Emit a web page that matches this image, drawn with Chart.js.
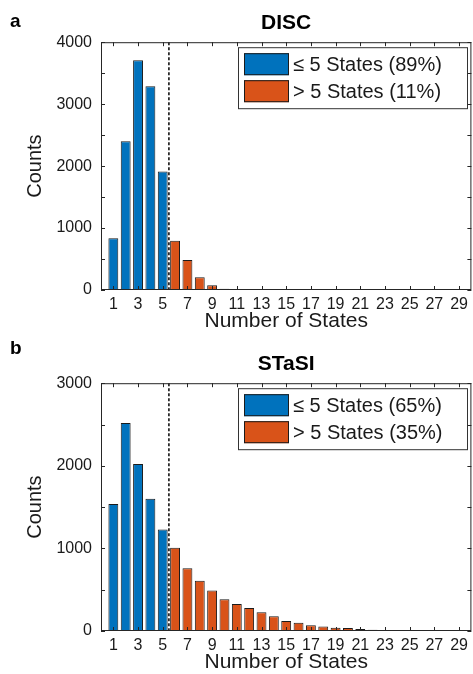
<!DOCTYPE html>
<html>
<head>
<meta charset="utf-8">
<script src="https://cdn.jsdelivr.net/npm/chart.js@4.4.1/dist/chart.umd.min.js"></script>
<style>
  html, body { margin: 0; padding: 0; background: #fff; overflow: hidden; }
  canvas { position: absolute; left: 0; }
  #panelA { top: 0; }
  #panelB { top: 341px; }
</style>
</head>
<body>
<canvas id="panelA" width="473" height="337"></canvas>
<canvas id="panelB" width="473" height="337"></canvas>
<script>
// Datos (número de estados vs. cuentas)
const statesLow = [1, 2, 3, 4, 5];
const statesHigh = [6, 7, 8, 9, 10, 11, 12, 13, 14, 15, 16, 17, 18, 19, 20, 21, 22, 23, 24, 25, 26, 27, 28, 29];

const discLow = [834, 2403, 3710, 3290, 1914];
const discHigh = [795, 484, 204, 75, 22, 5, 2, 0, 0, 0, 0, 0, 0, 0, 0, 0, 0, 0, 0, 0, 0, 0, 0, 0];

const stasiLow = [1538, 2517, 2023, 1602, 1230];
const stasiHigh = [1007, 761, 607, 489, 385, 328, 279, 227, 178, 121, 101, 69, 53, 40, 36, 24, 16, 12, 8, 4, 2, 1, 1, 0];

const xTickValues = [1, 3, 5, 7, 9, 11, 13, 15, 17, 19, 21, 23, 25, 27, 29];
const discLegend = ['≤ 5 States (89%)', '> 5 States (11%)'];
const stasiLegend = ['≤ 5 States (65%)', '> 5 States (35%)'];
const cutoffState = 5.5;

// Estilo común
const fontFamily = "'Liberation Sans', Arial, Helvetica, sans-serif";
const textColor = '#1a1a1a';
const axisColor = '#262626';
const blue = '#0072BD';
const orange = '#D95319';
const edge = '#1b1b1b';

// Caja de ejes, marcas hacia dentro y línea punteada de corte
const axesBox = {
    id: 'axesBox',
    afterDatasetsDraw(chart, args, opts) {
        const { ctx, chartArea: a, scales: { x, y } } = chart;
        ctx.save();
        const xs = x.getPixelForValue(opts.cutoff);
        ctx.strokeStyle = '#111';
        ctx.lineWidth = 1.6;
        ctx.setLineDash([3, 2]);
        ctx.beginPath();
        ctx.moveTo(xs, a.top);
        ctx.lineTo(xs, a.bottom);
        ctx.stroke();
        ctx.setLineDash([]);

        ctx.strokeStyle = axisColor;
        ctx.lineWidth = 1;
        const len = 4;
        ctx.beginPath();
        x.ticks.forEach(t => {
            const px = Math.round(x.getPixelForValue(t.value)) + 0.5;
            ctx.moveTo(px, a.bottom); ctx.lineTo(px, a.bottom - len);
            ctx.moveTo(px, a.top); ctx.lineTo(px, a.top + len);
        });
        y.ticks.forEach(t => {
            const py = Math.round(y.getPixelForValue(t.value)) + 0.5;
            ctx.moveTo(a.left, py); ctx.lineTo(a.left + len, py);
            ctx.moveTo(a.right, py); ctx.lineTo(a.right - len, py);
        });
        ctx.stroke();
        ctx.strokeRect(a.left + 0.5, a.top + 0.5, a.width - 1, a.height - 1);
        ctx.restore();
    }
};

// Leyenda dentro del área del gráfico (esquina superior derecha)
const insideLegend = {
    id: 'insideLegend',
    afterDraw(chart) {
        const { ctx, chartArea: a } = chart;
        const bx = a.left + 137, by = a.top + 5, bw = 229, bh = 61;
        ctx.save();
        ctx.fillStyle = '#fff';
        ctx.fillRect(bx, by, bw, bh);
        ctx.strokeStyle = '#333';
        ctx.lineWidth = 1;
        ctx.strokeRect(bx + 0.5, by + 0.5, bw, bh);
        ctx.font = '20px ' + fontFamily;
        ctx.textBaseline = 'middle';
        chart.data.datasets.forEach((ds, i) => {
            const sy = by + 6 + i * 27;
            ctx.fillStyle = ds.backgroundColor;
            ctx.fillRect(bx + 6, sy, 45, 22);
            ctx.strokeStyle = edge;
            ctx.strokeRect(bx + 6.5, sy + 0.5, 44, 21);
            ctx.fillStyle = textColor;
            ctx.fillText(ds.label, bx + 55, sy + 12);
        });
        ctx.restore();
    }
};

// Letra del panel (a / b)
const panelLetter = {
    id: 'panelLetter',
    afterDraw(chart, args, opts) {
        const ctx = chart.ctx;
        ctx.save();
        ctx.font = 'bold 19px ' + fontFamily;
        ctx.fillStyle = '#000';
        ctx.textBaseline = 'alphabetic';
        ctx.fillText(opts.text, 10, opts.baseline);
        ctx.restore();
    }
};

function makePanel(canvasId, titleText, low, high, legendTexts, yMax, letter, letterBaseline) {
    const tickFont = { family: fontFamily, size: 16 };
    const labelFont = { family: fontFamily, size: 20 };
    return new Chart(document.getElementById(canvasId), {
        type: 'bar',
        data: {
            datasets: [{
                label: legendTexts[0],
                data: statesLow.map((s, i) => ({ x: s, y: low[i] })),
                backgroundColor: blue,
                borderColor: edge,
                borderWidth: 1,
                borderSkipped: false,
                grouped: false,
                barPercentage: 0.8,
                categoryPercentage: 1.0
            }, {
                label: legendTexts[1],
                data: statesHigh.map((s, i) => ({ x: s, y: high[i] })),
                backgroundColor: orange,
                borderColor: edge,
                borderWidth: 1,
                borderSkipped: false,
                grouped: false,
                barPercentage: 0.8,
                categoryPercentage: 1.0
            }]
        },
        options: {
            responsive: false,
            animation: false,
            layout: { padding: { top: 0, right: 1, bottom: 0, left: 0 } },
            scales: {
                x: {
                    type: 'linear',
                    min: 0,
                    max: 30,
                    offset: false,
                    grid: { display: false, drawTicks: false, offset: false },
                    border: { display: false },
                    afterBuildTicks: s => { s.ticks = xTickValues.map(v => ({ value: v })); },
                    afterFit: s => { s.height = 47; },
                    ticks: {
                        padding: 5,
                        autoSkip: false,
                        maxRotation: 0,
                        font: tickFont,
                        color: textColor,
                        callback: v => v
                    },
                    title: {
                        display: true,
                        text: 'Number of States',
                        font: { family: fontFamily, size: 21 },
                        color: textColor,
                        padding: { top: 0, bottom: 3 }
                    }
                },
                y: {
                    min: 0,
                    max: yMax,
                    grid: { display: false, drawTicks: false },
                    border: { display: false },
                    afterFit: s => { s.width = 101; },
                    ticks: {
                        stepSize: 500,
                        padding: 9,
                        font: tickFont,
                        color: textColor,
                        callback: v => (v % 1000 === 0 ? v : '')
                    },
                    title: {
                        display: true,
                        text: 'Counts',
                        font: labelFont,
                        color: textColor,
                        padding: { top: 23, bottom: 0 }
                    }
                }
            },
            plugins: {
                legend: { display: false },
                tooltip: { enabled: false },
                title: {
                    display: true,
                    text: titleText,
                    fullSize: false,
                    color: '#000',
                    font: { family: fontFamily, size: 21, weight: 'bold' },
                    padding: { top: 11, bottom: 6 }
                },
                axesBox: { cutoff: cutoffState },
                panelLetter: { text: letter, baseline: letterBaseline }
            }
        },
        plugins: [axesBox, insideLegend, panelLetter]
    });
}

makePanel('panelA', 'DISC', discLow, discHigh, discLegend, 4000, 'a', 27);
makePanel('panelB', 'STaSI', stasiLow, stasiHigh, stasiLegend, 3000, 'b', 12.5);
</script>
</body>
</html>
